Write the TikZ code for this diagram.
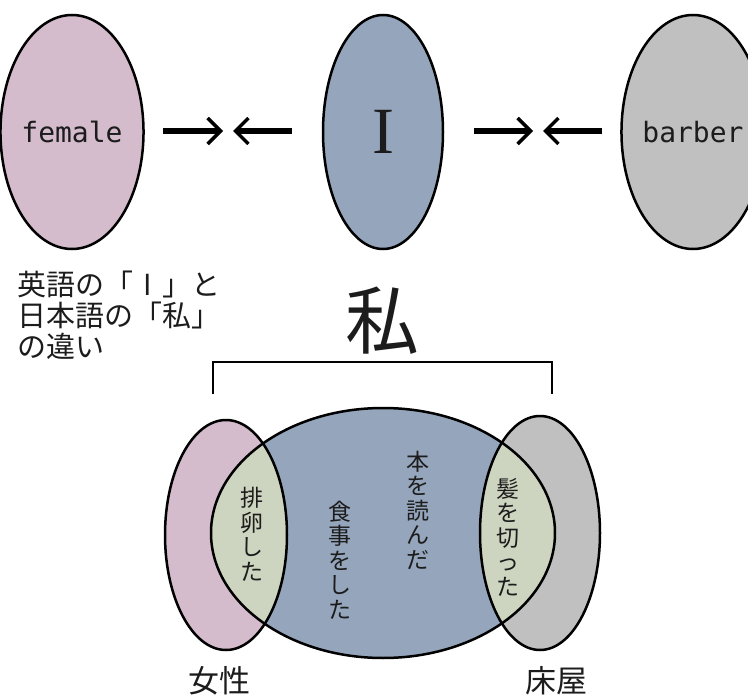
\documentclass[tikz,border=0pt]{standalone}
\usepackage{fontspec}
\usetikzlibrary{shapes.geometric,arrows.meta}
\newfontfamily\jpfont{Noto Sans CJK JP}
\newfontfamily\monofont{DejaVu Sans Mono}
\newfontfamily\seriffont{Liberation Serif}
\definecolor{pinkc}{HTML}{D5BCCD}
\definecolor{bluec}{HTML}{95A6BC}
\definecolor{grayc}{HTML}{C0C0C0}
\definecolor{lensc}{HTML}{CDD5C0}
\definecolor{inkc}{HTML}{1C1C1C}
\tikzset{
  bigell/.style={ellipse, draw=black, line width=2.5pt, inner sep=0pt,
    minimum width=120pt, minimum height=234pt, text=inkc},
  pushar/.style={line width=5.5pt, -{Straight Barb[length=13pt,width=26pt,line width=3.4pt]}},
  vtext/.style={font=\jpfont\fontsize{23}{24.5}\selectfont, align=center, inner sep=0pt, text=inkc},
  lbl/.style={font=\jpfont\fontsize{31}{33}\selectfont, inner sep=0pt, text=inkc},
  vline/.style={draw=black, line width=2.5pt}
}
\begin{document}
\begin{tikzpicture}[x=1pt,y=-1pt]
\useasboundingbox (0,0) rectangle (748,696);
\clip (0,0) rectangle (748,696);
% top row
\node[bigell, fill=pinkc, font=\monofont\fontsize{28}{30}\selectfont] (female) at (72,132) {female};
\node[bigell, fill=bluec, font=\seriffont\fontsize{66}{70}\selectfont] (I) at (383,132) {I};
\node[bigell, fill=grayc, font=\monofont\fontsize{28}{30}\selectfont] (barber) at (693,132) {barber};
\coordinate (a1s) at (163,131); \coordinate (a1e) at (223,131);
\coordinate (a2s) at (292,131); \coordinate (a2e) at (233,131);
\coordinate (a3s) at (474,131); \coordinate (a3e) at (533,131);
\coordinate (a4s) at (602,131); \coordinate (a4e) at (543,131);
\draw[pushar] (a1s) -- (a1e);
\draw[pushar] (a2s) -- (a2e);
\draw[pushar] (a3s) -- (a3e);
\draw[pushar] (a4s) -- (a4e);
% caption
\node[anchor=north west, align=left, inner sep=0pt, text=inkc,
  font=\jpfont\fontsize{29}{31}\selectfont] (cap) at (17,271)
  {英語の「\hbox to 1em{\hss I\hss}」と\\日本語の「私」\\の違い};
\node[font=\jpfont\fontsize{74}{78}\selectfont, inner sep=0pt, text=inkc] (watashi) at (382,321) {私};
% bracket
\coordinate (bl) at (213,394); \coordinate (br) at (552,394);
\coordinate (tl) at (213,362); \coordinate (tr) at (552,362);
\draw[line width=2.2pt] (bl) -- (tl) -- (tr) -- (br);
% venn fills
\fill[pinkc] (226,535) ellipse [x radius=61pt, y radius=115pt];
\fill[grayc] (540,533) ellipse [x radius=60pt, y radius=117pt];
\fill[bluec] (383,533) ellipse [x radius=172pt, y radius=125pt];
\begin{scope}
  \clip (226,535) ellipse [x radius=61pt, y radius=115pt];
  \fill[lensc] (383,533) ellipse [x radius=172pt, y radius=125pt];
\end{scope}
\begin{scope}
  \clip (540,533) ellipse [x radius=60pt, y radius=117pt];
  \fill[lensc] (383,533) ellipse [x radius=172pt, y radius=125pt];
\end{scope}
\draw[vline] (226,535) ellipse [x radius=61pt, y radius=115pt];
\draw[vline] (540,533) ellipse [x radius=60pt, y radius=117pt];
\draw[vline] (383,533) ellipse [x radius=172pt, y radius=125pt];
% venn texts
\node[vtext] (t1) at (252,534) {排\\卵\\し\\た};
\node[vtext] (t2) at (340,560) {食\\事\\を\\し\\た};
\node[vtext] (t3) at (418,510) {本\\を\\読\\ん\\だ};
\node[vtext] (t4) at (508,537) {髪\\を\\切\\っ\\た};
\node[lbl] (josei) at (219,681) {女性};
\node[lbl] (tokoya) at (556,681) {床屋};
\end{tikzpicture}
\end{document}
